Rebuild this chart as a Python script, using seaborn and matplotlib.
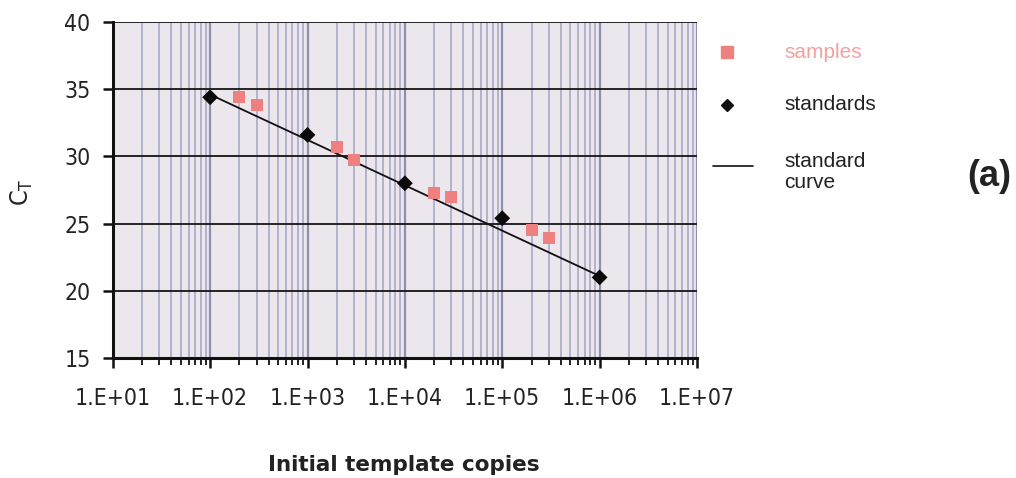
import numpy as np
import pandas as pd
import matplotlib
matplotlib.use("Agg")
import matplotlib.pyplot as plt
from matplotlib import font_manager as fm
from matplotlib.ticker import LogLocator, FixedLocator, NullFormatter, FuncFormatter
import seaborn as sns

# ---- data ----
standards_copies = [1e2, 1e3, 1e4, 1e5, 1e6]
standards_ct = [34.4, 31.6, 28.0, 25.4, 21.0]
samples_copies = [2e2, 3e2, 2e3, 3e3, 2e4, 3e4, 2e5, 3e5]
samples_ct = [34.4, 33.8, 30.7, 29.7, 27.3, 27.0, 24.5, 23.9]
curve_copies = [1e2, 1e6]
curve_ct = [34.6, 21.1]
x_tick_labels = ["1.E+01", "1.E+02", "1.E+03", "1.E+04", "1.E+05", "1.E+06", "1.E+07"]
y_ticks = [15, 20, 25, 30, 35, 40]

sns.set_theme(style="white")
plt.rcParams["font.family"] = ["Liberation Sans", "DejaVu Sans"]

# condensed font for tick labels if available
all_files = [f.fname for f in fm.fontManager.ttflist]
cond_file = None
for pref in ["LiberationSansNarrow-Regular", "DejaVuSansCondensed.ttf", "Condensed-Regular", "Condensed"]:
    for fn in all_files:
        low = fn.lower()
        if pref.lower() in low and not any(k in low for k in ["bold", "oblique", "italic", "light"]):
            cond_file = fn
            break
    if cond_file:
        break
if cond_file:
    tick_fp = fm.FontProperties(fname=cond_file, size=16.5)
else:
    tick_fp = fm.FontProperties(family=["DejaVu Sans"], stretch="condensed", size=16.5)

fig = plt.figure(figsize=(10.16, 4.78), dpi=100)
ax = fig.add_axes([0.111, 0.251, 0.575, 0.703])
ax.set_facecolor("#ece7ec")

ax.set_xscale("log")
ax.set_xlim(1e1, 1e7)
ax.set_ylim(15, 40)

ax.xaxis.set_major_locator(LogLocator(base=10, numticks=10))
ax.xaxis.set_minor_locator(LogLocator(base=10, subs=np.arange(2, 10), numticks=100))
ax.yaxis.set_major_locator(FixedLocator(y_ticks))
ax.grid(True, which="major", axis="x", color="#8f8fb0", linewidth=1.6, zorder=0)
ax.grid(True, which="minor", axis="x", color="#a4a4c4", linewidth=1.1, zorder=0)
ax.grid(True, which="major", axis="y", color="#151515", linewidth=1.3, zorder=0)
ax.set_axisbelow(True)

df_curve = pd.DataFrame({"copies": curve_copies, "ct": curve_ct})
df_std = pd.DataFrame({"copies": standards_copies, "ct": standards_ct})
df_smp = pd.DataFrame({"copies": samples_copies, "ct": samples_ct})

sns.lineplot(data=df_curve, x="copies", y="ct", ax=ax, color="#111111", linewidth=1.3, zorder=3)
sns.scatterplot(data=df_smp, x="copies", y="ct", ax=ax, marker="s", s=75, color="#ee8080",
                edgecolor="none", zorder=4)
sns.scatterplot(data=df_std, x="copies", y="ct", ax=ax, marker="D", s=65, color="#0a0a0a",
                edgecolor="none", zorder=5)

for side in ["top", "right"]:
    ax.spines[side].set_visible(False)
for side in ["left", "bottom"]:
    ax.spines[side].set_color("#111111")
    ax.spines[side].set_linewidth(2.2)

ax.tick_params(axis="x", which="major", direction="out", length=7, width=1.8, color="#111111",
               bottom=True, pad=14)
ax.tick_params(axis="y", which="major", direction="out", length=7, width=1.8, color="#111111",
               left=True, pad=9)
ax.tick_params(axis="x", which="minor", direction="out", length=5, width=1.3, color="#111111",
               bottom=True)
ax.xaxis.set_major_formatter(FuncFormatter(lambda v, p: x_tick_labels[int(round(np.log10(v))) - 1]
                                           if 1 <= round(np.log10(v)) <= 7 else ""))
ax.xaxis.set_minor_formatter(NullFormatter())
ax.set_yticks(y_ticks)
ax.set_yticklabels([str(v) for v in y_ticks])
for lab in ax.get_xticklabels() + ax.get_yticklabels():
    lab.set_fontproperties(tick_fp)
    lab.set_color("#222222")

ax.set_xlabel("Initial template copies", fontsize=15.5, fontweight="bold", color="#222222",
              family=["DejaVu Sans"], va="center")
ax.xaxis.set_label_coords(0.498, -0.318)
ax.set_ylabel("")
ct_fp = tick_fp.copy()
ct_fp.set_size(18)
fig.text(0.022, 1 - 192 / 478, r"C$_\mathregular{T}$", rotation=90, color="#222222",
         ha="center", va="center", fontproperties=ct_fp)

# legend, drawn by hand in figure coords
lx_m, lx_t = 0.7155, 0.772
fig.lines.append(plt.Line2D([lx_m], [1 - 52 / 478], marker="s", markersize=8, color="#ee8080",
                            linestyle="none", transform=fig.transFigure))
fig.text(lx_t, 1 - 52 / 478, "samples", fontsize=15, color="#f4a0a0", va="center")
fig.lines.append(plt.Line2D([lx_m], [1 - 105 / 478], marker="D", markersize=6.5, color="#111111",
                            linestyle="none", transform=fig.transFigure))
fig.text(lx_t, 1 - 105 / 478, "standards", fontsize=15, color="#222222", va="center")
fig.lines.append(plt.Line2D([0.702, 0.741], [1 - 166 / 478, 1 - 166 / 478], color="#111111",
                            linewidth=1.2, transform=fig.transFigure))
fig.text(lx_t, 1 - 172 / 478, "standard\ncurve", fontsize=15, color="#222222", va="center",
         linespacing=1.15)
fig.text(0.974, 1 - 176 / 478, "(a)", fontsize=26, fontweight="bold", color="#222222",
         ha="center", va="center")

fig.savefig("out.png", dpi=100)
